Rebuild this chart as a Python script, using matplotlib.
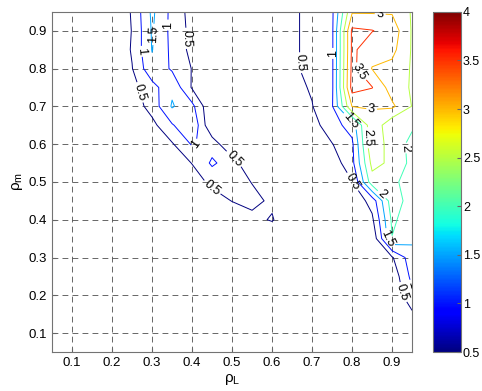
import numpy as np
import matplotlib.pyplot as plt
from matplotlib import cm, colors

plt.rcParams['font.family'] = ['Liberation Sans', 'DejaVu Sans']
plt.rcParams['mathtext.fontset'] = 'custom'
plt.rcParams['mathtext.rm'] = 'Liberation Sans'
plt.rcParams['mathtext.it'] = 'Liberation Sans:italic'

# grid of the surface
rho_L = [0.05, 0.10, 0.15, 0.20, 0.25, 0.30, 0.35, 0.40, 0.45, 0.50,
         0.55, 0.60, 0.65, 0.70, 0.75, 0.80, 0.85, 0.90, 0.95]
rho_m = [0.95, 0.90, 0.85, 0.80, 0.75, 0.70, 0.65, 0.60, 0.55, 0.50,
         0.45, 0.40, 0.35, 0.30, 0.25, 0.20, 0.15, 0.10, 0.05]

# one row per rho_m value (top to bottom), one column per rho_L value
z_rows = [
    [0, 0, 0, 0, 0.55, 1.60, 0.85, 0.30, 0, 0, 0, 0, 0.35, 0.75, 0.90, 2.95, 2.95, 2.95, 2.45],
    [0, 0, 0, 0, 0.52, 1.55, 0.85, 0.35, 0, 0, 0, 0, 0.35, 0.75, 0.90, 3.60, 3.52, 3.30, 2.45],
    [0, 0, 0, 0, 0.55, 1.52, 0.88, 0.35, 0, 0, 0, 0, 0.35, 0.75, 0.90, 3.60, 3.20, 3.15, 2.45],
    [0, 0, 0, 0, 0.48, 1.38, 0.93, 0.48, 0, 0, 0, 0, 0.35, 0.75, 0.90, 3.65, 2.98, 2.85, 2.45],
    [0, 0, 0, 0, 0.35, 0.80, 1.40, 0.45, 0, 0, 0, 0, 0.35, 0.55, 0.90, 3.70, 3.52, 2.75, 2.45],
    [0, 0, 0, 0, 0.20, 0.70, 1.55, 1.14, 0, 0, 0, 0, 0.20, 0.48, 0.95, 3.02, 3.02, 3.10, 2.48],
    [0, 0, 0, 0, 0, 0.35, 0.95, 1.45, 0, 0, 0, 0, 0, 0.30, 0.80, 1.20, 2.90, 2.10, 2.05],
    [0, 0, 0, 0, 0, 0, 0.45, 1.05, 0.80, 0, 0, 0, 0, 0, 0.48, 0.90, 2.95, 2.20, 1.90],
    [0, 0, 0, 0, 0, 0, 0.10, 0.52, 1.08, 0.75, 0, 0, 0, 0, 0.20, 0.85, 2.65, 2.40, 1.85],
    [0, 0, 0, 0, 0, 0, 0, 0.20, 0.65, 0.75, 0.48, 0, 0, 0, 0, 0.48, 2.30, 2.10, 1.80],
    [0, 0, 0, 0, 0, 0, 0, 0, 0.20, 0.52, 0.65, 0.40, 0, 0, 0, 0.10, 0.70, 2.30, 1.75],
    [0, 0, 0, 0, 0, 0, 0, 0, 0, 0, 0.35, 0.55, 0, 0, 0, 0, 0.40, 2.10, 1.70],
    [0, 0, 0, 0, 0, 0, 0, 0, 0, 0, 0, 0, 0, 0, 0, 0, 0.10, 1.98, 1.60],
    [0, 0, 0, 0, 0, 0, 0, 0, 0, 0, 0, 0, 0, 0, 0, 0, 0, 0.45, 1.30],
    [0, 0, 0, 0, 0, 0, 0, 0, 0, 0, 0, 0, 0, 0, 0, 0, 0, 0.15, 1.15],
    [0, 0, 0, 0, 0, 0, 0, 0, 0, 0, 0, 0, 0, 0, 0, 0, 0, 0.05, 0.90],
    [0, 0, 0, 0, 0, 0, 0, 0, 0, 0, 0, 0, 0, 0, 0, 0, 0, 0, 0.40],
    [0, 0, 0, 0, 0, 0, 0, 0, 0, 0, 0, 0, 0, 0, 0, 0, 0, 0, 0],
    [0, 0, 0, 0, 0, 0, 0, 0, 0, 0, 0, 0, 0, 0, 0, 0, 0, 0, 0],
]

levels = [0.5, 1, 1.5, 2, 2.5, 3, 3.5]
cbar_ticks = [0.5, 1, 1.5, 2, 2.5, 3, 3.5, 4]
ticks = [0.1, 0.2, 0.3, 0.4, 0.5, 0.6, 0.7, 0.8, 0.9]

# rough spots where the contour labels sit
label_spots = [
    (0.312, 0.89), (0.342, 0.915), (0.388, 0.88), (0.27, 0.845),
    (0.263, 0.735), (0.42, 0.595), (0.504, 0.56), (0.45, 0.485),
    (0.667, 0.815), (0.750, 0.84), (0.87, 0.94), (0.817, 0.79),
    (0.85, 0.70), (0.796, 0.66), (0.846, 0.617), (0.933, 0.59),
    (0.80, 0.50), (0.871, 0.463), (0.8875, 0.35), (0.94, 0.225),
    (0.913, 0.205),
]

fig = plt.figure(figsize=(4.82, 3.91), dpi=100)
ax = fig.add_axes([0.108, 0.0997, 0.747, 0.870])
cax = fig.add_axes([0.898, 0.0997, 0.058, 0.870])

norm = colors.Normalize(vmin=0.5, vmax=4)
cs = ax.contour(rho_L, rho_m, np.array(z_rows), levels=levels,
                cmap='jet', norm=norm, linewidths=0.7)

ax.set_xlim(0.05, 0.95)
ax.set_ylim(0.05, 0.95)
ax.clabel(cs, fmt='%g', fontsize=9, colors='k', inline=True,
          inline_spacing=2, manual=label_spots)

ax.set_xticks(ticks)
ax.set_yticks(ticks)
ax.set_xticklabels(['%g' % t for t in ticks])
ax.set_yticklabels(['%g' % t for t in ticks])
ax.tick_params(direction='in', labelsize=9.5, length=3, color='0.4')
ax.grid(True, color='0.3', linestyle=(0, (7, 5)), linewidth=0.6)
for s in ax.spines.values():
    s.set_color('0.45')
    s.set_linewidth(0.8)
ax.set_xlabel(r'$\mathrm{\rho_L}$', fontsize=11, labelpad=2)
ax.set_ylabel(r'$\mathrm{\rho_m}$', fontsize=11, labelpad=3)

sm = cm.ScalarMappable(norm=norm, cmap='jet')
cb = fig.colorbar(sm, cax=cax, ticks=cbar_ticks)
cb.ax.set_yticklabels(['%g' % t for t in cbar_ticks])
cb.ax.tick_params(direction='in', labelsize=9, length=3, pad=1.5, color='0.4')
cb.outline.set_edgecolor('0.45')
cb.outline.set_linewidth(0.8)

fig.savefig('out.png', dpi=100)
